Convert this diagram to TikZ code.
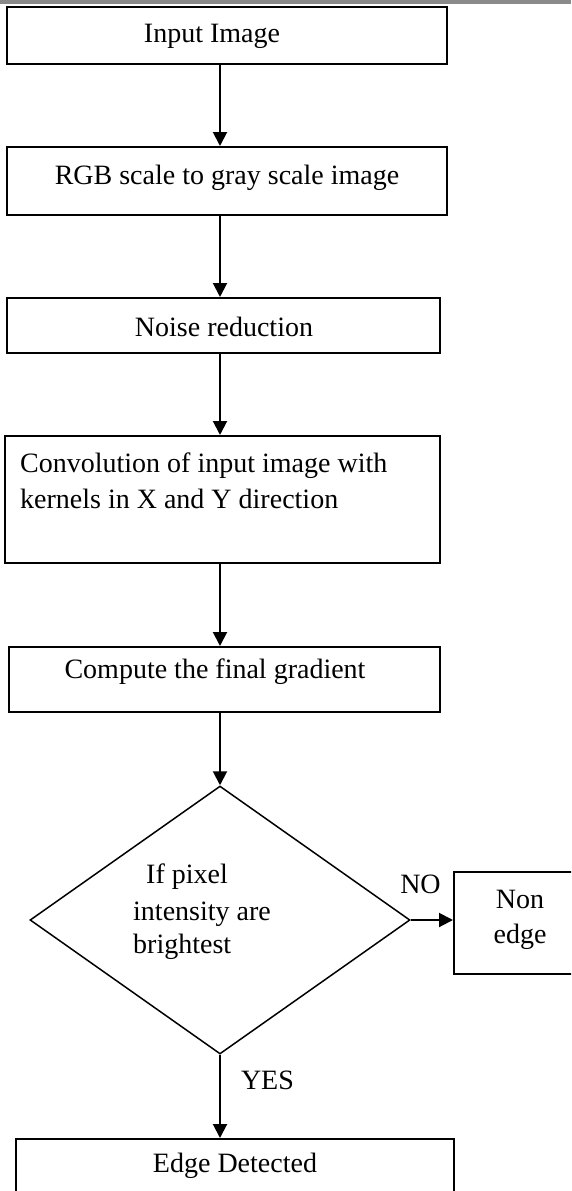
\documentclass[tikz,border=0pt]{standalone}
\usepackage{fontspec}
\setmainfont{Liberation Serif}
\usetikzlibrary{shapes.geometric,arrows.meta}
\definecolor{topline}{HTML}{8A8A8A}
\begin{document}
\begin{tikzpicture}[x=1pt,y=-1pt,
  every node/.style={font=\fontsize{28}{34}\selectfont},
  boxnode/.style={draw=black,line width=2pt,inner sep=0pt,rectangle},
  txt/.style={inner sep=0pt},
  arr/.style={line width=2pt,-{Triangle[length=14pt,width=14pt]}}]
\useasboundingbox (0,0) rectangle (571,1191);
\clip (0,0) rectangle (571,1191);
\fill[white] (0,0) rectangle (571,1191);
\draw[topline,line width=3.5pt] (0,1.75) -- (571,1.75);
% boxes
\node[boxnode,minimum width=440pt,minimum height=57pt] (b1) at (227,35.5) {};
\node[boxnode,minimum width=440pt,minimum height=68pt] (b2) at (227,181) {};
\node[boxnode,minimum width=433pt,minimum height=55pt] (b3) at (223.5,325.5) {};
\node[boxnode,minimum width=435pt,minimum height=127pt] (b4) at (222.5,499.5) {};
\node[boxnode,minimum width=431pt,minimum height=65pt] (b5) at (224.5,679.5) {};
\node[draw=black,diamond,line width=1.5pt,inner sep=0pt,minimum width=380pt,minimum height=268pt] (d) at (220,920) {};
\node[boxnode,minimum width=121pt,minimum height=102pt] (ne) at (514.5,923) {};
\node[boxnode,minimum width=438pt,minimum height=61pt] (b6) at (235,1169.5) {};
% texts
\node[txt] (t1) at (212,36) {Input Image};
\node[txt] (t2) at (227,178) {RGB scale to gray scale image};
\node[txt] (t3) at (224,327) {Noise reduction};
\node[txt,anchor=base west] (t4a) at (20,472) {Convolution of input image with};
\node[txt,anchor=base west] (t4b) at (20,508) {kernels in X and Y direction};
\node[txt] (t5) at (215,672) {Compute the final gradient};
\node[txt,anchor=base west] (tda) at (146,883) {If pixel};
\node[txt,anchor=base west] (tdb) at (133,920) {intensity are};
\node[txt,anchor=base west] (tdc) at (133,953) {brightest};
\node[txt,anchor=base] (tne1) at (520,908) {Non};
\node[txt,anchor=base] (tne2) at (520,943) {edge};
\node[txt] (t6) at (235,1166) {Edge Detected};
% connectors
\coordinate (ax) at (220,0);
\draw[arr] (b1.south -| ax) -- (b2.north -| ax);
\draw[arr] (b2.south -| ax) -- (b3.north -| ax);
\draw[arr] (b3.south -| ax) -- (b4.north -| ax);
\draw[arr] (b4.south -| ax) -- (b5.north -| ax);
\draw[arr] (b5.south -| ax) -- (d.north);
\draw[arr] (d.east) -- (ne.west |- d.east) node[txt,pos=0.23,anchor=base,yshift=27pt] (no) {NO};
\draw[arr] (d.south) -- (b6.north -| d.south) node[txt,pos=0.42,anchor=base west,xshift=20pt] (yes) {YES};
\end{tikzpicture}
\end{document}
